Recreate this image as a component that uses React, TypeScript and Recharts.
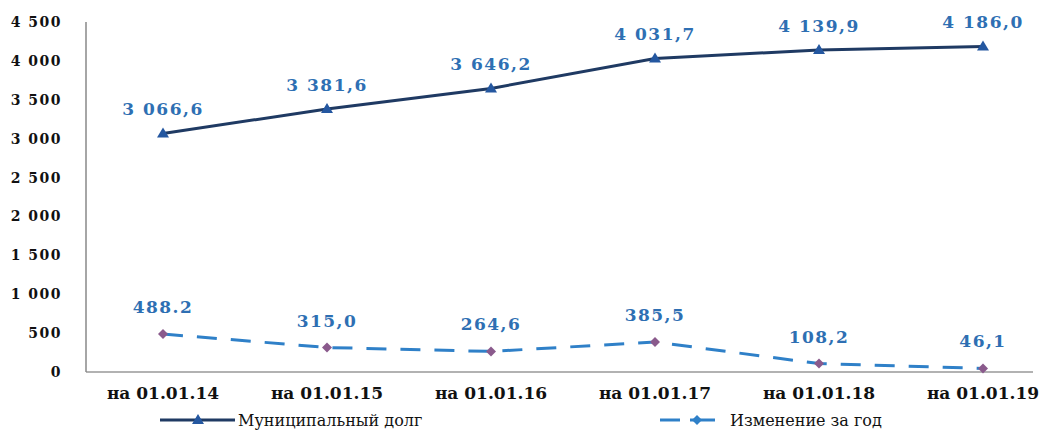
import React from "react";
import { LineChart, Line, XAxis, YAxis, LabelList } from "recharts";

const categories = ["на 01.01.14", "на 01.01.15", "на 01.01.16", "на 01.01.17", "на 01.01.18", "на 01.01.19"];
const debtValues = [3066.6, 3381.6, 3646.2, 4031.7, 4139.9, 4186.0];
const changeValues = [488.2, 315.0, 264.6, 385.5, 108.2, 46.1];
const debtLabels = ["3 066,6", "3 381,6", "3 646,2", "4 031,7", "4 139,9", "4 186,0"];
const changeLabels = ["488.2", "315,0", "264,6", "385,5", "108,2", "46,1"];
const yTicks = [0, 500, 1000, 1500, 2000, 2500, 3000, 3500, 4000, 4500];
const seriesNames = ["Муниципальный долг", "Изменение за год"];

const data = categories.map((c, i) => ({
  cat: c,
  debt: debtValues[i],
  change: changeValues[i],
  debtLabel: debtLabels[i],
  changeLabel: changeLabels[i],
}));

const FONT = "'DejaVu Serif', 'Liberation Serif', serif";
const MAIN_LINE = "#1f3a63";
const MAIN_MARK = "#2457a0";
const DASH_LINE = "#2f80c8";
const DIAMOND = "#8a5a8c";
const LABEL_BLUE = "#2e6fb3";

const fmt = (v: number) => String(v).replace(/\B(?=(\d{3})+(?!\d))/g, " ");

const Triangle = (props: any) => {
  const { cx, cy } = props;
  if (cx == null || cy == null) return null;
  return <path d={`M${cx},${cy - 6} L${cx + 6},${cy + 4} L${cx - 6},${cy + 4} Z`} fill={MAIN_MARK} />;
};

const Diamond = (props: any) => {
  const { cx, cy } = props;
  if (cx == null || cy == null) return null;
  return <path d={`M${cx},${cy - 5} L${cx + 5},${cy} L${cx},${cy + 5} L${cx - 5},${cy} Z`} fill={DIAMOND} />;
};

const makeLabel = (dy: number) => (props: any) => {
  const { x, y, value } = props;
  return (
    <text x={x} y={y - dy} textAnchor="middle" fill={LABEL_BLUE} fontFamily={FONT} fontWeight="bold" fontSize={17} letterSpacing={1.5}>
      {value}
    </text>
  );
};

const LegendBlock = () => (
  <svg width={1043} height={26} style={{ position: "absolute", left: 0, top: 407 }}>
    <line x1={160} y1={13} x2={235} y2={13} stroke={MAIN_LINE} strokeWidth={3} />
    <path d="M198,7 L204,17 L192,17 Z" fill={MAIN_MARK} />
    <text x={238} y={19} fontFamily={FONT} fontSize={16} fill="#111">{seriesNames[0]}</text>
    <line x1={660} y1={13} x2={680} y2={13} stroke={DASH_LINE} strokeWidth={3} />
    <line x1={690} y1={13} x2={715} y2={13} stroke={DASH_LINE} strokeWidth={3} />
    <path d="M697,8 L702,13 L697,18 L692,13 Z" fill={DASH_LINE} />
    <text x={730} y={19} fontFamily={FONT} fontSize={16} fill="#111">{seriesNames[1]}</text>
  </svg>
);

export default function App() {
  return (
    <div style={{ position: "absolute", left: 0, top: 0, width: 1043, height: 432, background: "#fff" }}>
      <LineChart width={1043} height={432} data={data} margin={{ top: 22, right: 10, bottom: 30, left: 0 }}>
        <XAxis
          dataKey="cat"
          height={30}
          padding={{ left: 77, right: 50 }}
          tickLine={false}
          tickSize={0}
          tickMargin={15}
          axisLine={{ stroke: "#999", strokeWidth: 1.5 }}
          tick={{ fill: "#111", fontFamily: FONT, fontWeight: "bold", fontSize: 17 }}
          interval={0}
        />
        <YAxis
          width={86}
          domain={[0, 4500]}
          ticks={yTicks}
          tickFormatter={fmt}
          tickLine={false}
          tickSize={0}
          tickMargin={24}
          axisLine={{ stroke: "#888", strokeWidth: 1.5 }}
          tick={{ fill: "#111", fontFamily: FONT, fontWeight: "bold", fontSize: 14, letterSpacing: 1.5 }}
          interval={0}
        />
        <Line
          type="linear"
          dataKey="debt"
          name={seriesNames[0]}
          stroke={MAIN_LINE}
          strokeWidth={3}
          dot={<Triangle />}
          activeDot={false}
          isAnimationActive={false}
        >
          <LabelList dataKey="debtLabel" content={makeLabel(18)} />
        </Line>
        <Line
          type="linear"
          dataKey="change"
          name={seriesNames[1]}
          stroke={DASH_LINE}
          strokeWidth={3}
          strokeDasharray="20 14"
          dot={<Diamond />}
          activeDot={false}
          isAnimationActive={false}
        >
          <LabelList dataKey="changeLabel" content={makeLabel(21)} />
        </Line>
      </LineChart>
      <LegendBlock />
    </div>
  );
}
